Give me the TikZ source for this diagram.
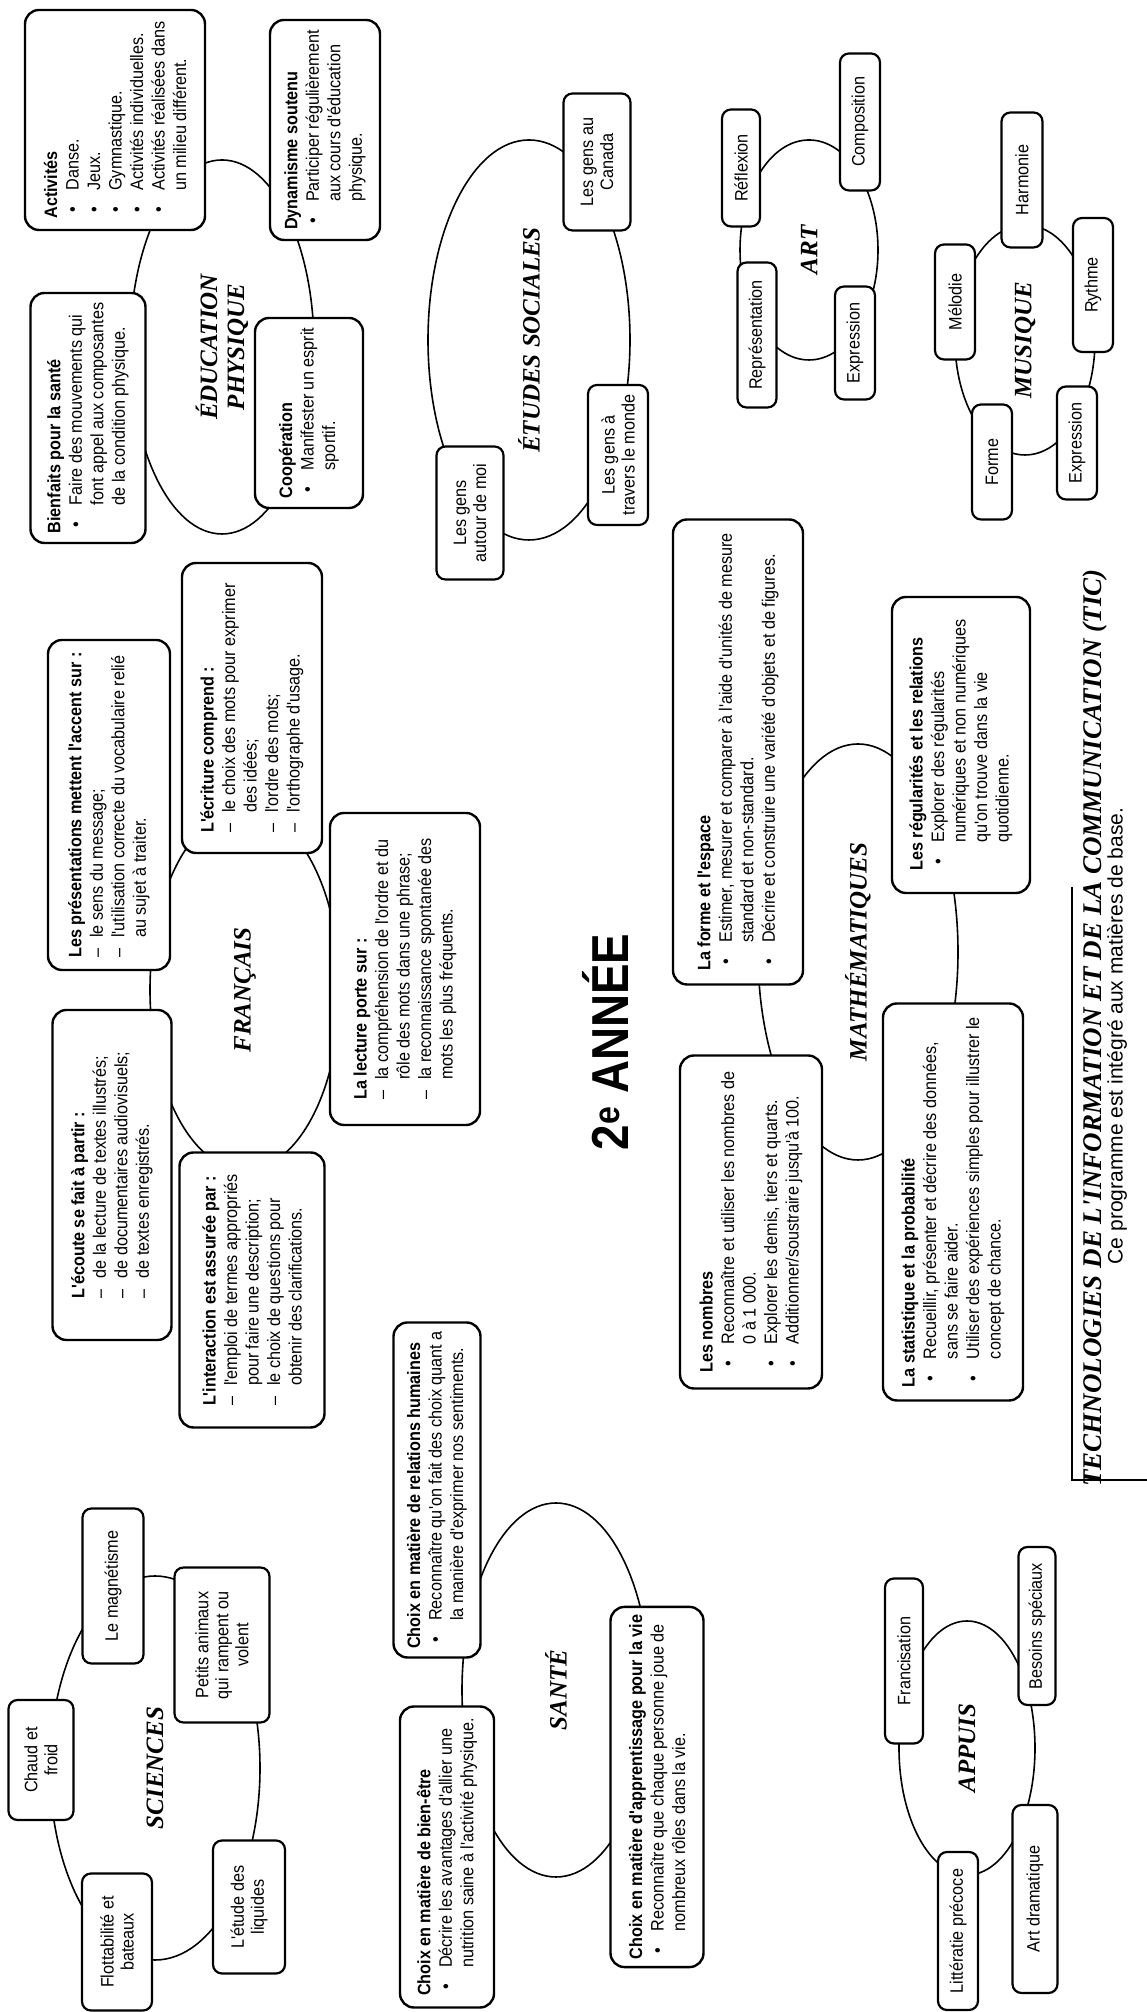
\documentclass[tikz,border=0pt]{standalone}
\usepackage{fontspec}
\setmainfont{Liberation Sans}
\newfontfamily\boxfont[FakeStretch=0.9]{Liberation Sans}
\newfontfamily\bigfont[FakeStretch=0.88]{Liberation Sans}
\newfontfamily\titlefont{Liberation Serif}
\usetikzlibrary{shapes.geometric}
% bullets and dashes inside the boxes
\newcommand{\bul}{\makebox[28pt][l]{\hspace{6pt}•}}
\newcommand{\cnt}{\hspace*{28pt}}
\newcommand{\dsh}{\makebox[20pt][l]{–}}
\newcommand{\dcnt}{\hspace*{20pt}}
\begin{document}
\begin{tikzpicture}[x=1pt, y=1pt, rotate=90, transform shape,
  bubble/.style 2 args={draw, ellipse, line width=1.6pt, minimum width=#1, minimum height=#2, inner sep=0pt, align=center, font=\titlefont\bfseries\itshape\fontsize{25}{27}\selectfont},
  card/.style 2 args={draw, fill=white, rounded corners=14pt, line width=2.4pt, minimum width=#1, minimum height=#2, align=left, inner sep=8pt, font=\boxfont\fontsize{18}{21.5}\selectfont},
  tag/.style 2 args={draw, fill=white, rounded corners=9pt, line width=2.2pt, minimum width=#1, minimum height=#2, align=center, inner sep=2pt, font=\boxfont\fontsize{18}{20}\selectfont}]
\useasboundingbox (0,0) rectangle (2012,-1147);

% education physique
\node[bubble={374}{184}] (ep) at (1665,-222) {ÉDUCATION\\PHYSIQUE};
\node[card={220}{180}] (act) at (1892,-115) {\textbf{Activités}\\\bul Danse.\\\bul Jeux.\\\bul Gymnastique.\\\bul Activités individuelles.\\\bul Activités réalisées dans\\\cnt un milieu différent.};
\node[card={220}{110}] (dyn) at (1882,-325) {\textbf{Dynamisme soutenu}\\\bul Participer régulièrement\\\cnt aux cours d'éducation\\\cnt physique.};
\node[card={250}{115}] (bien) at (1594,-88) {\textbf{Bienfaits pour la santé}\\\bul Faire des mouvements qui\\\cnt font appel aux composantes\\\cnt de la condition physique.};
\node[card={190}{108}] (coop) at (1599,-309) {\textbf{Coopération}\\\bul Manifester un esprit\\\cnt sportif.};

% etudes sociales
\node[bubble={400}{202}] (es) at (1672,-529) {ÉTUDES SOCIALES};
\node[tag={137}{67}] (canada) at (1850,-597) {Les gens au\\Canada};
\node[tag={140}{60}] (monde) at (1557,-618) {Les gens à\\travers le monde};
\node[tag={133}{67}] (moi) at (1499,-470) {Les gens\\autour de moi};

% art
\node[bubble={220}{138}] (art) at (1762,-809) {ART};
\node[tag={117}{38}] (refl) at (1844,-741) {Réflexion};
\node[tag={145}{39}] (repr) at (1677,-757) {Représentation};
\node[tag={137}{40}] (compo) at (1890,-860) {Composition};
\node[tag={113}{40}] (expra) at (1669,-855) {Expression};

% musique
\node[bubble={230}{140}] (mus) at (1672,-1025) {MUSIQUE};
\node[tag={135}{41}] (harm) at (1832,-1022) {Harmonie};
\node[tag={115}{40}] (melo) at (1710,-955) {Mélodie};
\node[tag={134}{40}] (ryth) at (1727,-1093) {Rythme};
\node[tag={115}{40}] (formem) at (1550,-992) {Forme};
\node[tag={113}{40}] (exprm) at (1569,-1077) {Expression};

% francais
\node[bubble={360}{190}] (fr) at (1022,-245) {FRANÇAIS};
\node[card={330}{122}] (pres) at (1207,-109) {\textbf{Les présentations mettent l'accent sur :}\\\dsh le sens du message;\\\dsh l'utilisation correcte du vocabulaire relié\\\dcnt au sujet à traiter.};
\node[card={290}{140}] (ecri) at (1304,-252) {\textbf{L'écriture comprend :}\\\dsh le choix des mots pour exprimer\\\dcnt des idées;\\\dsh l'ordre des mots;\\\dsh l'orthographe d'usage.};
\node[card={330}{119}] (ecoute) at (837,-112) {\textbf{L'écoute se fait à partir :}\\\dsh de la lecture de textes illustrés;\\\dsh de documentaires audiovisuels;\\\dsh de textes enregistrés.};
\node[card={275}{145}] (inter) at (722,-252) {\textbf{L'interaction est assurée par :}\\\dsh l'emploi de termes appropriés\\\dcnt pour faire une description;\\\dsh le choix de questions pour\\\dcnt obtenir des clarifications.};
\node[card={312}{150}] (lect) at (1043,-405) {\textbf{La lecture porte sur :}\\\dsh la compréhension de l'ordre et du\\\dcnt rôle des mots dans une phrase;\\\dsh la reconnaissance spontanée des\\\dcnt mots les plus fréquents.};

% titre
\node[font=\bigfont\bfseries\fontsize{52}{52}\selectfont] (annee) at (970,-605) {2\textsuperscript{e} ANNÉE};

% mathematiques
\node[bubble={416}{200}] (math) at (1060,-858) {MATHÉMATIQUES};
\node[card={465}{130}] (formesp) at (1260,-738) {\textbf{La forme et l'espace}\\\bul Estimer, mesurer et comparer à l'aide d'unités de mesure\\\cnt standard et non-standard.\\\bul Décrire et construire une variété d'objets et de figures.};
\node[card={296}{138}] (regu) at (1267,-961) {\textbf{Les régularités et les relations}\\\bul Explorer des régularités\\\cnt numériques et non numériques\\\cnt qu'on trouve dans la vie\\\cnt quotidienne.};
\node[card={333}{142}] (nomb) at (790,-751) {\textbf{Les nombres}\\\bul Reconnaître et utiliser les nombres de\\\cnt 0 à 1 000.\\\bul Explorer les demis, tiers et quarts.\\\bul Additionner/soustraire jusqu'à 100.};
\node[card={397}{140}] (stat) at (810,-953) {\textbf{La statistique et la probabilité}\\\bul Recueillir, présenter et décrire des données,\\\cnt sans se faire aider.\\\bul Utiliser des expériences simples pour illustrer le\\\cnt concept de chance.};

% sante
\node[bubble={374}{188}] (sante) at (322,-556) {SANTÉ};
\node[card={335}{87}] (relh) at (522,-437) {\textbf{Choix en matière de relations humaines}\\\bul Reconnaître qu'on fait des choix quant a\\\cnt la manière d'exprimer nos sentiments.};
\node[card={301}{94}] (bienetre) at (155,-447) {\textbf{Choix en matière de bien-être}\\\bul Décrire les avantages d'allier une\\\cnt nutrition saine à l'activité physique.};
\node[card={353}{93}] (appr) at (225,-657) {\textbf{Choix en matière d'apprentissage pour la vie}\\\bul Reconnaître que chaque personne joue de\\\cnt nombreux rôles dans la vie.};

% sciences
\node[bubble={384}{210}] (sci) at (244,-155) {SCIENCES};
\node[tag={120}{65}] (chaud) at (252,-41) {Chaud et\\froid};
\node[tag={155}{61}] (magn) at (426,-113) {Le magnétisme};
\node[tag={155}{95}] (petits) at (367,-222) {Petits animaux\\qui rampent ou\\volent};
\node[tag={137}{70}] (flot) at (70,-117) {Flottabilité et\\bateaux};
\node[tag={133}{72}] (liqu) at (105,-249) {L'étude des\\liquides};

% appuis
\node[bubble={254}{136}] (app) at (264,-967) {APPUIS};
\node[tag={165}{38}] (franc) at (351,-904) {Francisation};
\node[tag={158}{37}] (besoins) at (386,-1037) {Besoins spéciaux};
\node[tag={158}{40}] (litt) at (81,-958) {Littératie précoce};
\node[tag={188}{45}] (artd) at (113,-1035) {Art dramatique};

% TIC
\draw[line width=1.5pt] (1125,-1072) -- (532,-1072) -- (532,-1147);
\node[font=\titlefont\bfseries\itshape\fontsize{27}{30}\selectfont] (tic) at (984,-1095) {TECHNOLOGIES DE L'INFORMATION ET DE LA COMMUNICATION (TIC)};
\node[font=\fontsize{21}{24}\selectfont] (ticsub) at (976,-1117) {Ce programme est intégré aux matières de base.};
\end{tikzpicture}
\end{document}
